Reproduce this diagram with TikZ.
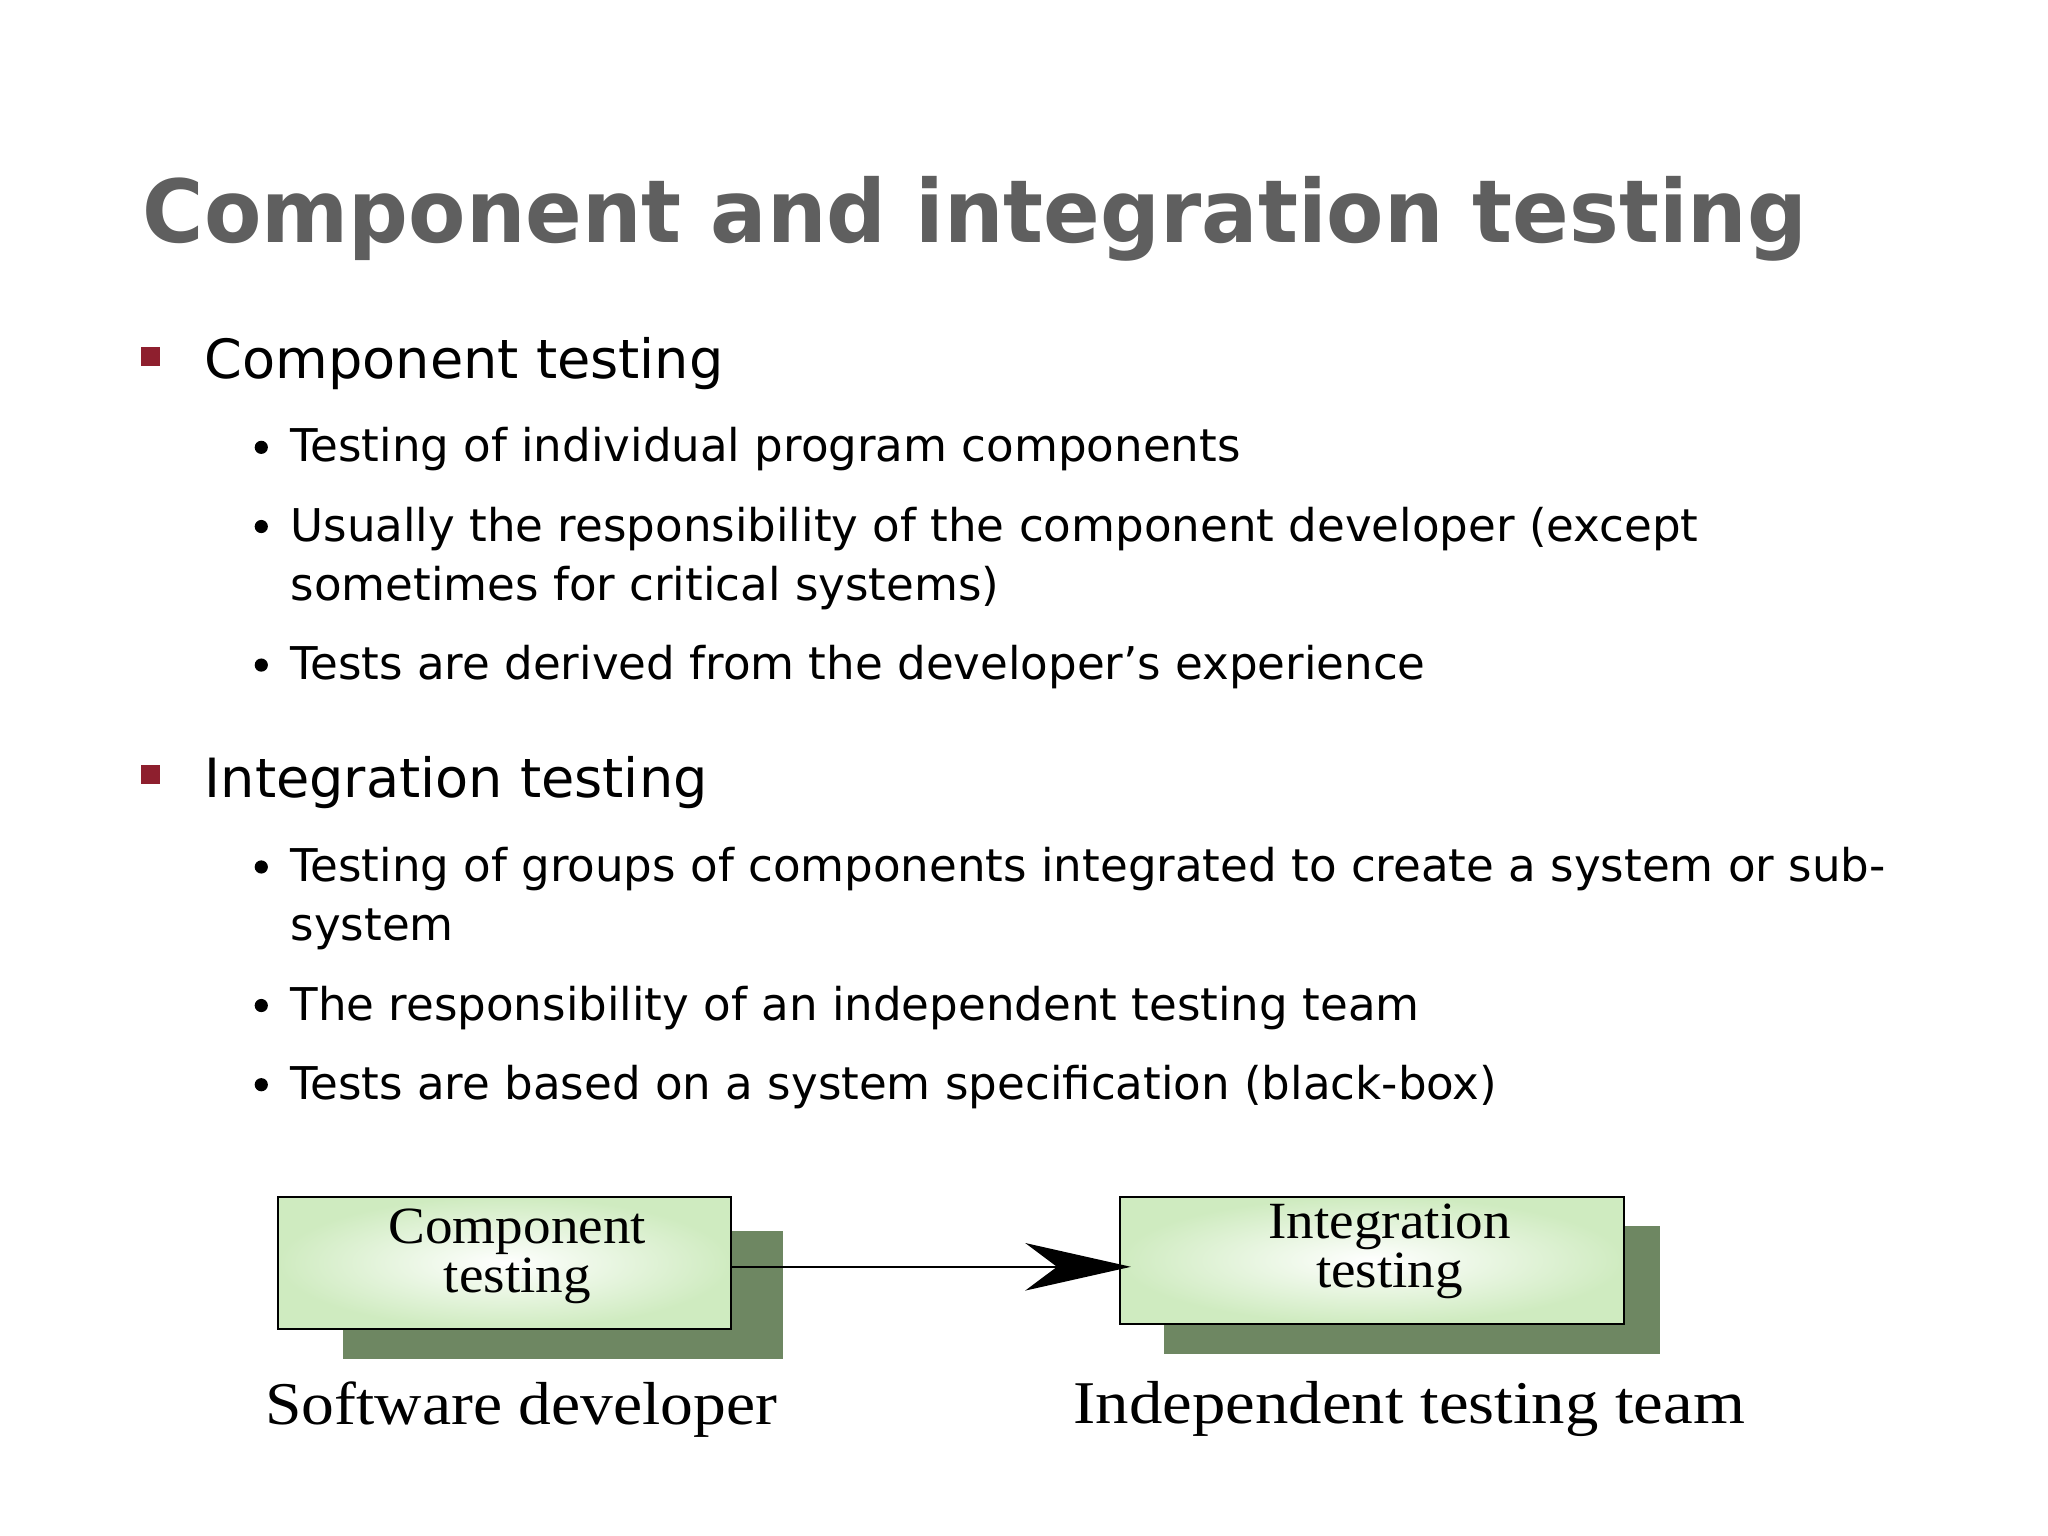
\documentclass[tikz,border=0pt]{standalone}
\usepackage{fontspec}
\setmainfont{DejaVu Sans}
\newfontfamily\boxfont{Liberation Serif}
\usetikzlibrary{arrows.meta}
\definecolor{titlegray}{HTML}{5F5F5F}
\definecolor{sqred}{HTML}{8E1F2E}
\definecolor{shadowgreen}{HTML}{6E8762}
\definecolor{boxgreen}{HTML}{CFEBC0}
\begin{document}
\begin{tikzpicture}[x=1pt,y=-1pt,
  title/.style={anchor=base west,inner sep=0,text=titlegray,font=\fontsize{66}{70}\selectfont\bfseries},
  lone/.style={anchor=base west,inner sep=0,font=\fontsize{41}{44}\selectfont},
  ltwo/.style={anchor=base west,inner sep=0,font=\fontsize{34.2}{40}\selectfont},
  sq/.style={fill=sqred,minimum size=14,inner sep=0},
  dot/.style={circle,fill=black,minimum size=10,inner sep=0},
  shadowbox/.style={fill=shadowgreen,draw=none},
  tbox/.style={draw=black,line width=1.6pt,inner color=white,outer color=boxgreen},
  btext/.style={inner sep=0,align=center,font=\boxfont\fontsize{44}{37}\selectfont},
  lab/.style={inner sep=0,font=\boxfont\fontsize{46}{46}\selectfont}]
\useasboundingbox[fill=white] (0,0) rectangle (1552,1164);
\node[title] (t) at (108,184) {\scalebox{0.96}[1]{Component and integration testing}};
\node[sq] (s1) at (114,270) {};
\node[lone] (l1) at (155,287) {Component testing};
\node[dot] (d1) at (198,339) {};
\node[ltwo] (a1) at (220,350) {Testing of individual program components};
\node[dot] (d2) at (198,399) {};
\node[ltwo] (a2) at (220,410) {Usually the responsibility of the component developer (except};
\node[ltwo] (a2b) at (220,455) {sometimes for critical systems)};
\node[dot] (d3) at (198,504) {};
\node[ltwo] (a3) at (220,515) {Tests are derived from the developer’s experience};
\node[sq] (s2) at (114,587) {};
\node[lone] (l2) at (155,604) {Integration testing};
\node[dot] (d4) at (198,657) {};
\node[ltwo] (b1) at (220,668) {Testing of groups of components integrated to create a system or sub-};
\node[ltwo] (b1b) at (220,713) {system};
\node[dot] (d5) at (198,762) {};
\node[ltwo] (b2) at (220,773) {The responsibility of an independent testing team};
\node[dot] (d6) at (198,822) {};
\node[ltwo] (b3) at (220,833) {Tests are based on a system specification (black-box)};
\fill[shadowbox] (260,933) rectangle (593,1030);
\fill[shadowbox] (882,929) rectangle (1258,1026);
\path[tbox] (211,907) rectangle (554,1007);
\path[tbox] (849,907) rectangle (1231,1003);
\coordinate (c1r) at (554,960);
\coordinate (c2l) at (857,960);
\node[btext] (bt1) at (392,952) {\scalebox{0.95}[0.9]{Component}\\\scalebox{0.95}[0.9]{testing}};
\node[btext] (bt2) at (1053,948) {\scalebox{0.95}[0.9]{Integration}\\\scalebox{0.95}[0.9]{testing}};
\draw[line width=1.6pt,-{Stealth[length=80,width=36,inset=24]}] (c1r) -- (c2l);
\node[lab] (lb1) at (395,1068) {\scalebox{1.08}[1]{Software developer}};
\node[lab] (lb2) at (1068,1068) {\scalebox{1.1}[1]{Independent testing team}};
\end{tikzpicture}
\end{document}
